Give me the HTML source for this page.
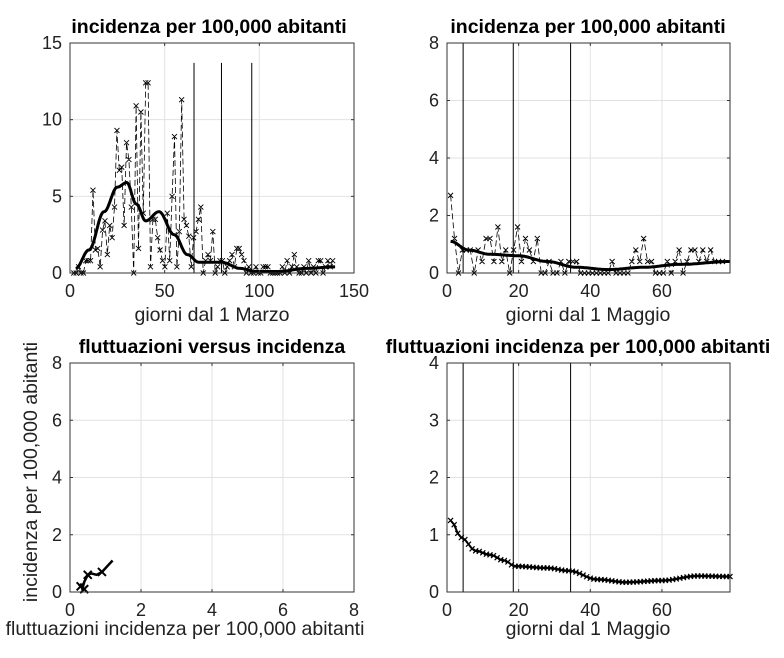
<!DOCTYPE html>
<html><head><meta charset="utf-8"><style>
html,body{margin:0;padding:0;background:#fff;}
svg{display:block;font-family:"Liberation Sans",Arial,sans-serif;}
.t{font-size:19.5px;font-weight:bold;fill:#000;}
.tk{font-size:18px;fill:#222;}
.lb{font-size:19.5px;fill:#222;}
.g{stroke:#e2e2e2;stroke-width:1;}
.bx{fill:none;stroke:#333;stroke-width:1;}
</style></head><body>
<svg id="s" width="784" height="658" viewBox="0 0 784 658" xmlns="http://www.w3.org/2000/svg">
<rect width="784" height="658" fill="#fff"/>
<g id="grids"></g>
<g id="data"></g>
<g id="boxes"></g>
<text class="t" x="209" y="33" text-anchor="middle">incidenza per 100,000 abitanti</text>
<text class="t" x="588" y="33" text-anchor="middle">incidenza per 100,000 abitanti</text>
<text class="t" x="212" y="353" text-anchor="middle">fluttuazioni versus incidenza</text>
<text class="t" x="578" y="353" text-anchor="middle">fluttuazioni incidenza per 100,000 abitanti</text>
<text class="lb" x="212" y="321" text-anchor="middle">giorni dal 1 Marzo</text>
<text class="lb" x="588" y="321" text-anchor="middle">giorni dal 1 Maggio</text>
<text class="lb" x="185" y="635" text-anchor="middle">fluttuazioni incidenza per 100,000 abitanti</text>
<text class="lb" x="588" y="635" text-anchor="middle">giorni dal 1 Maggio</text>
<text class="lb" transform="translate(37,472) rotate(-90)" text-anchor="middle">incidenza per 100,000 abitanti</text>
<g id="ticks"></g>
</svg>
<script>
var NS="http://www.w3.org/2000/svg";
function el(p,n,a,txt){var e=document.createElementNS(NS,n);for(var k in a)e.setAttribute(k,a[k]);if(txt!==undefined)e.textContent=txt;document.getElementById(p).appendChild(e);return e;}
function ax(x0,x1,y0,y1,xmin,xmax,ymin,ymax,xt,yt,tb){
 var A={x:function(v){return x0+(v-xmin)/(xmax-xmin)*(x1-x0);},y:function(v){return y1-(v-ymin)/(ymax-ymin)*(y1-y0);}};
 xt.forEach(function(t){var X=A.x(t);if(t>xmin&&t<xmax)el("grids","line",{x1:X,x2:X,y1:y0,y2:y1,"class":"g"});
  el("boxes","line",{x1:X,x2:X,y1:y1,y2:y1-3,stroke:"#333"});el("boxes","line",{x1:X,x2:X,y1:y0,y2:y0+3,stroke:"#333"});
  el("ticks","text",{x:X,y:y1+tb,"class":"tk","text-anchor":"middle"},String(t));});
 yt.forEach(function(t){var Y=A.y(t);if(t>ymin&&t<ymax)el("grids","line",{x1:x0,x2:x1,y1:Y,y2:Y,"class":"g"});
  el("boxes","line",{x1:x0,x2:x0+3,y1:Y,y2:Y,stroke:"#333"});el("boxes","line",{x1:x1,x2:x1-3,y1:Y,y2:Y,stroke:"#333"});
  el("ticks","text",{x:x0-8,y:Y+6,"class":"tk","text-anchor":"end"},String(t));});
 el("boxes","rect",{x:x0,y:y0,width:x1-x0,height:y1-y0,"class":"bx"});
 return A;}
function path(A,pts){return pts.map(function(p,i){return (i?"L":"M")+A.x(p[0]).toFixed(1)+","+A.y(p[1]).toFixed(1);}).join("");}
function marks(A,pts,sz,w){var d="";pts.forEach(function(p){var X=A.x(p[0]),Y=A.y(p[1]);d+="M"+(X-sz)+","+(Y-sz)+"L"+(X+sz)+","+(Y+sz)+"M"+(X-sz)+","+(Y+sz)+"L"+(X+sz)+","+(Y-sz);});el("data","path",{d:d,stroke:"#000","stroke-width":w||1,fill:"none"});}
function interp(k,x){for(var i=0;i<k.length-1;i++){if(x<=k[i+1][0]){var t=(x-k[i][0])/(k[i+1][0]-k[i][0]);t=(1-Math.cos(Math.PI*t))/2;return k[i][1]+t*(k[i+1][1]-k[i][1]);}}return k[k.length-1][1];}

var A1=ax(70,354,43,273,0,150,0,15,[0,50,100,150],[0,5,10,15],24);
var k1=[[3,0.3],[10,1.5],[18,4],[25,5.6],[30,5.9],[35,4.5],[40,3.4],[47,4],[55,2.5],[62,1.2],[68,0.7],[80,0.7],[90,0.3],[98,0.1],[110,0.1],[125,0.3],[140,0.4]];
var raw1=[0,0,0.4,0,0,0.8,0.8,0.8,5.4,1.5,1.6,0.4,2.8,3.4,1.2,3.1,2.3,4.3,9.3,6.7,6.9,3.1,8.5,7.4,4.3,0,10.9,1.6,10.5,3.9,12.4,12.4,0.4,3.5,3.5,2.3,1.5,0.8,0.4,3.9,0.8,5,8.9,0.4,2.7,11.3,3.5,3.1,2.4,0.4,2.3,2.7,3.5,4.3,0,0.8,1.2,0.8,2.7,0,0.4,0.8,0.8,0,0.4,0.8,1.2,0.4,1.6,1.6,1.2,0.8,0,0.4,0,0,0.4,0,0,0.4,0.4,0.4,0,0,0,0,0,0.4,0,0.8,0,0.4,1.2,0.4,0,0,0.4,0,0.8,0,0.4,0,0.8,0.8,0,0.4,0.8,0.4,0.8];
var p1=[];
for(var i=0;i<raw1.length;i++){var x=2+i*(138/raw1.length);p1.push([x,raw1[i]]);}
el("data","path",{d:path(A1,p1),stroke:"#000","stroke-width":0.8,"stroke-dasharray":"6,3",fill:"none"});
marks(A1,p1,2.5,0.9);
[65.5,80,96].forEach(function(v){el("data","line",{x1:A1.x(v),x2:A1.x(v),y1:A1.y(13.7),y2:A1.y(0),stroke:"#000","stroke-width":1});});
var s1=[];for(var x=3;x<=140;x+=0.5)s1.push([x,interp(k1,x)]);
el("data","path",{d:path(A1,s1),stroke:"#000","stroke-width":3,fill:"none"});

var A2=ax(447,730,43,273,0,79,0,8,[0,20,40,60],[0,2,4,6,8],24);
var k2=[[1,1.1],[6,0.8],[12,0.65],[20,0.6],[28,0.4],[36,0.2],[45,0.12],[55,0.2],[65,0.3],[79,0.4]];
var raw2=[2.7,1.2,0,0.8,0.8,0.8,0,0.8,0.4,1.2,1.2,0.4,1.6,0.4,0.8,0,0.8,1.6,0.4,1.2,0.8,0.4,1.2,0,0,0.4,0,0,0.4,0,0.4,0.4,0.4,0,0,0,0,0,0,0,0,0.4,0,0,0,0,0.4,0.8,0.4,1.2,0.4,0.4,0,0,0,0.4,0,0.4,0.8,0,0.4,0.8,0.8,0.4,0.8,0.4,0.8,0.4,0.4,0.4];
var p2=[];for(var i=0;i<raw2.length;i++)p2.push([1+i*(77/raw2.length),raw2[i]]);
el("data","path",{d:path(A2,p2),stroke:"#000","stroke-width":0.8,"stroke-dasharray":"6,3",fill:"none"});
marks(A2,p2,2.5,0.9);
[4.5,18.5,34.5].forEach(function(v){el("data","line",{x1:A2.x(v),x2:A2.x(v),y1:A2.y(8),y2:A2.y(0),stroke:"#000","stroke-width":1});});
var s2=[];for(var x=1;x<=79;x+=0.5)s2.push([x,interp(k2,x)]);
el("data","path",{d:path(A2,s2),stroke:"#000","stroke-width":3,fill:"none"});

var A3=ax(70,354,363,592,0,8,0,8,[0,2,4,6,8],[0,2,4,6,8],24);
var p3=[[0.25,0.2],[0.3,0.25],[0.35,0.1],[0.4,0.35],[0.5,0.6],[0.6,0.65],[0.75,0.6],[0.9,0.7],[1.05,0.9],[1.2,1.1]];
el("data","path",{d:path(A3,p3),stroke:"#000","stroke-width":2.5,fill:"none"});
marks(A3,[[0.3,0.2],[0.4,0.1],[0.5,0.6],[0.9,0.7]],4,2);

var A4=ax(447,730,363,592,0,79,0,4,[0,20,40,60],[0,1,2,3,4],24);
var k4=[[1,1.25],[4,0.95],[8,0.72],[12,0.65],[16,0.55],[19,0.45],[28,0.42],[34,0.37],[42,0.22],[50,0.17],[60,0.2],[70,0.28],[79,0.27]];
[4.5,18.5,34.5].forEach(function(v){el("data","line",{x1:A4.x(v),x2:A4.x(v),y1:A4.y(4),y2:A4.y(0),stroke:"#000","stroke-width":1});});
var s4=[];for(var x=1;x<=79;x+=1)s4.push([x,interp(k4,x)]);
el("data","path",{d:path(A4,s4),stroke:"#000","stroke-width":2,fill:"none"});
marks(A4,s4,2.5,1.2);
</script>
</body></html>
